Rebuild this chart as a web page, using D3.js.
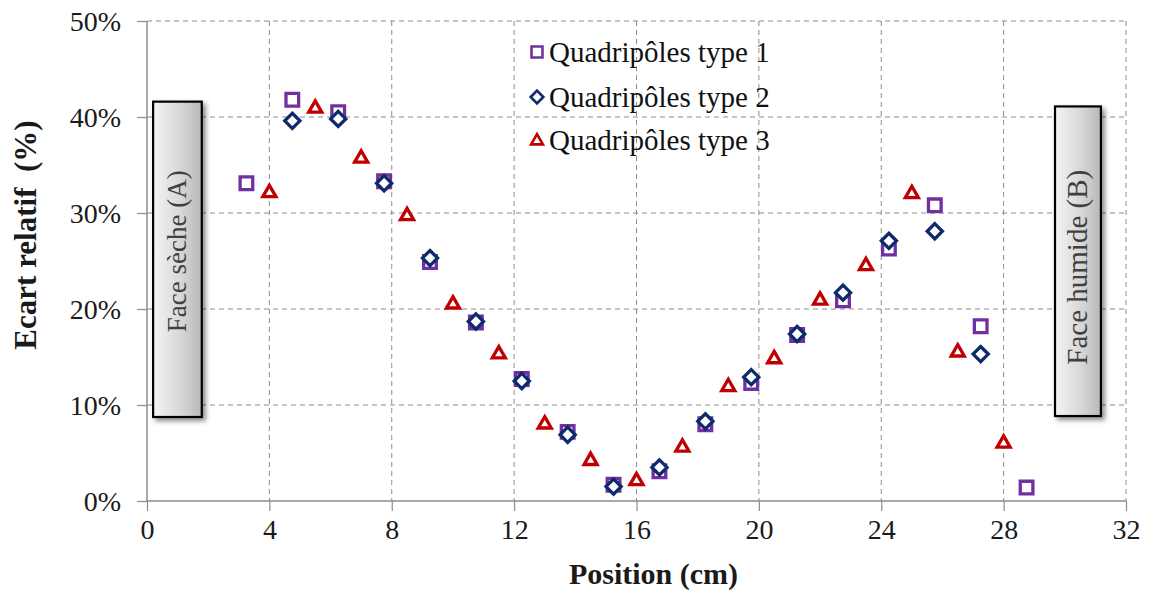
<!DOCTYPE html>
<html><head><meta charset="utf-8">
<script src="https://cdn.jsdelivr.net/npm/d3@7"></script>
<style>
html,body{margin:0;padding:0;background:#fff;}
svg text{font-family:"Liberation Serif","Times New Roman",serif;}
</style></head>
<body><svg id="c" width="1150" height="593"></svg>
<script>
// ---- data ----
const xTicks = [0,4,8,12,16,20,24,28,32];
const yTicks = [0,10,20,30,40,50];
const seriesNames = ["Quadripôles type 1","Quadripôles type 2","Quadripôles type 3"];
const pos1 = [3.25,4.75,6.25,7.75,9.25,10.75,12.25,13.75,15.25,16.75,18.25,19.75,21.25,22.75,24.25,25.75,27.25,28.75];
const val1 = [33.1,41.8,40.5,33.3,24.9,18.6,12.7,7.2,1.7,3.1,8.0,12.3,17.3,20.9,26.3,30.8,18.2,1.4];
const pos2 = [4.75,6.25,7.75,9.25,10.75,12.25,13.75,15.25,16.75,18.25,19.75,21.25,22.75,24.25,25.75,27.25];
const val2 = [39.6,39.8,33.1,25.3,18.7,12.5,6.9,1.5,3.5,8.3,12.9,17.4,21.7,27.1,28.1,15.3];
const pos3 = [4.0,5.5,7.0,8.5,10.0,11.5,13.0,14.5,16.0,17.5,19.0,20.5,22.0,23.5,25.0,26.5,28.0];
const val3 = [32.2,41.0,35.8,29.8,20.6,15.4,8.1,4.3,2.2,5.7,12.0,14.9,21.0,24.6,32.1,15.6,6.1];
const faceLabels = ["Face sèche (A)","Face humide (B)"];
const faceX = [[0.2,1.79],[29.68,31.18]];
const faceY = [[41.6,8.75],[41.1,8.85]];

const colors = ["#7030A0","#0E2A6A","#C00000"];
const svg = d3.select("#c");
const m = {l:147, r:1126, t:21, b:501};
const x = d3.scaleLinear().domain([0,32]).range([m.l,m.r]);
const y = d3.scaleLinear().domain([0,50]).range([m.b,m.t]);

// defs
const defs = svg.append("defs");
const g = defs.append("linearGradient").attr("id","boxg").attr("x1","0").attr("x2","1").attr("y1","0").attr("y2","0");
g.append("stop").attr("offset","0%").attr("stop-color","#f4f4f4");
g.append("stop").attr("offset","55%").attr("stop-color","#d8d8d8");
g.append("stop").attr("offset","100%").attr("stop-color","#b8b8b8");
const f = defs.append("filter").attr("id","sh").attr("x","-30%").attr("y","-10%").attr("width","160%").attr("height","120%");
f.append("feDropShadow").attr("dx",3).attr("dy",3).attr("stdDeviation",2.5).attr("flood-color","#000").attr("flood-opacity",0.45);

// grid
svg.append("g").selectAll("line").data(yTicks.filter(d=>d>0)).join("line")
  .attr("x1",m.l).attr("x2",m.r).attr("y1",d=>y(d)).attr("y2",d=>y(d))
  .attr("stroke","#8c8c8c").attr("stroke-width",1).attr("stroke-dasharray","5,4");
svg.append("g").selectAll("line").data(xTicks.filter(d=>d>0)).join("line")
  .attr("x1",d=>x(d)).attr("x2",d=>x(d)).attr("y1",m.t).attr("y2",m.b)
  .attr("stroke","#8c8c8c").attr("stroke-width",1).attr("stroke-dasharray","5,4");

// axes
const xa = svg.append("g").attr("transform",`translate(0,${m.b})`)
  .call(d3.axisBottom(x).tickValues(xTicks).tickSize(10).tickPadding(8).tickFormat(d3.format("d")));
const ya = svg.append("g").attr("transform",`translate(${m.l},0)`)
  .call(d3.axisLeft(y).tickValues(yTicks).tickSize(10).tickPadding(16).tickFormat(d=>d+"%"));
[xa,ya].forEach(a=>{
  a.attr("font-family",null);
  a.select(".domain").attr("stroke","#8c8c8c").attr("stroke-width",1.5);
  a.selectAll(".tick line").attr("stroke","#8c8c8c").attr("stroke-width",1.2);
  a.selectAll("text").attr("font-size",28).attr("fill","#1a1a1a").style("font-family","'Liberation Serif',serif");
});
xa.select(".domain").attr("d",`M${m.l},0H${m.r}`);
ya.select(".domain").attr("d",`M0,${m.b}V${m.t}`);
ya.selectAll(".tick text").attr("dy","0.35em");

// titles
svg.append("text").attr("x",(m.l+m.r)/2+17).attr("y",584).attr("text-anchor","middle")
  .attr("font-size",30).attr("font-weight","bold").attr("fill","#1a1a1a").text("Position (cm)");
svg.append("text").attr("transform",`translate(36,${235}) rotate(-90)`).attr("text-anchor","middle")
  .attr("font-size",31).attr("font-weight","bold").attr("fill","#1a1a1a").attr("xml:space","preserve").text("Ecart relatif  (%)");

// face boxes
const faceFS = [27,29], faceDy = [-8,6];
faceLabels.forEach((lab,i)=>{
  const x0=x(faceX[i][0]), x1=x(faceX[i][1]), y0=y(faceY[i][0]), y1=y(faceY[i][1]);
  svg.append("rect").attr("x",x0).attr("y",y0).attr("width",x1-x0).attr("height",y1-y0)
    .attr("fill","url(#boxg)").attr("stroke","#000").attr("stroke-width",2.2).attr("filter","url(#sh)");
  svg.append("text").attr("transform",`translate(${(x0+x1)/2+9},${(y0+y1)/2+faceDy[i]}) rotate(-90)`)
    .attr("text-anchor","middle").attr("font-size",faceFS[i]).attr("fill","#404040").text(lab);
});

// markers
const diamond = { draw(ctx, size){ const r = Math.sqrt(size/2); ctx.moveTo(0,-r); ctx.lineTo(r,0); ctx.lineTo(0,r); ctx.lineTo(-r,0); ctx.closePath(); } };
const shapes = [d3.symbolSquare, diamond, d3.symbolTriangle];
const sizes = [160, 115, 74];
const datasets = [[pos1,val1],[pos2,val2],[pos3,val3]];
datasets.forEach(([p,v],i)=>{
  const pts = p.map((d,j)=>[d,v[j]]);
  svg.append("g").selectAll("path").data(pts).join("path")
    .attr("d",d3.symbol().type(shapes[i]).size(sizes[i]))
    .attr("transform",d=>`translate(${x(d[0])},${y(d[1])+(i===2?1:0)})`)
    .attr("fill","#fff").attr("stroke",colors[i]).attr("stroke-width",3.3).attr("stroke-linejoin","miter");
});

// legend
const lg = svg.append("g");
const ly = [52,97,140];
seriesNames.forEach((n,i)=>{
  lg.append("path").attr("d",d3.symbol().type(shapes[i]).size([120,80,60][i]))
    .attr("transform",`translate(537,${ly[i]+(i===2?1:0)})`).attr("fill","#fff").attr("stroke",colors[i]).attr("stroke-width",2.6);
  lg.append("text").attr("x",549).attr("y",ly[i]).attr("dy","0.35em").attr("font-size",29).attr("fill","#111").text(n);
});
</script></body></html>
